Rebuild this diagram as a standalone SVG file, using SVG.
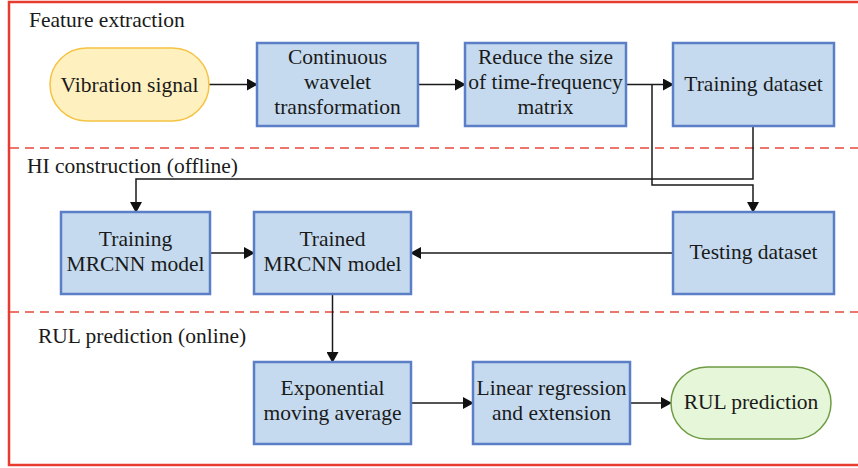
<svg xmlns="http://www.w3.org/2000/svg" width="858" height="468" viewBox="0 0 858 468">
  <style>
    .frame { fill: none; stroke: #e63b2e; stroke-width: 2.5; }
    .divider { fill: none; stroke: #e8493d; stroke-width: 1.5; stroke-dasharray: 9 6; }
    .section { font-family: "Liberation Serif", "DejaVu Serif", serif; font-size: 21.5px; fill: #1a1a1a; }
    .box { fill: #c5daef; stroke: #5b7fc6; stroke-width: 2.5; }
    .start { fill: #fff0c0; stroke: #f5c242; stroke-width: 1.5; }
    .end { fill: #e6f7d9; stroke: #6e9b43; stroke-width: 1.5; }
    .label { font-family: "Liberation Serif", "DejaVu Serif", serif; font-size: 21.5px; fill: #1a1a1a; text-anchor: middle; }
    .wire { fill: none; stroke: #1a1a1a; stroke-width: 1.5; }
  </style>
  <defs>
    <marker id="arrow" markerUnits="userSpaceOnUse" markerWidth="11" markerHeight="12" refX="10" refY="6" orient="auto">
      <path d="M0,0 L11,6 L0,12 Z" fill="#111"/>
    </marker>
  </defs>

  <rect width="858" height="468" fill="#ffffff"/>

  <!-- outer frame and section dividers -->
  <rect class="frame" x="9" y="2" width="870" height="463"/>
  <line class="divider" x1="10" y1="148" x2="858" y2="148"/>
  <line class="divider" x1="10" y1="312" x2="858" y2="312"/>

  <!-- section titles -->
  <text class="section" x="29" y="27">Feature extraction</text>
  <text class="section" x="27" y="173">HI construction (offline)</text>
  <text class="section" x="38" y="343">RUL prediction (online)</text>

  <!-- connectors -->
  <g id="connectors">
    <line class="wire" x1="209" y1="84.5" x2="257" y2="84.5" marker-end="url(#arrow)"/>
    <line class="wire" x1="418" y1="84.5" x2="465" y2="84.5" marker-end="url(#arrow)"/>
    <line class="wire" x1="626" y1="84.5" x2="673" y2="84.5" marker-end="url(#arrow)"/>
    <polyline class="wire" points="652,84.5 652,185 753,185 753,212" marker-end="url(#arrow)"/>
    <polyline class="wire" points="753,126 753,179 136,179 136,212" marker-end="url(#arrow)"/>
    <line class="wire" x1="210" y1="253" x2="254" y2="253" marker-end="url(#arrow)"/>
    <line class="wire" x1="673" y1="253" x2="411" y2="253" marker-end="url(#arrow)"/>
    <line class="wire" x1="332.5" y1="294" x2="332.5" y2="362" marker-end="url(#arrow)"/>
    <line class="wire" x1="411" y1="403" x2="473" y2="403" marker-end="url(#arrow)"/>
    <line class="wire" x1="630" y1="403" x2="671" y2="403" marker-end="url(#arrow)"/>
  </g>

  <!-- feature extraction row -->
  <g id="vibration-signal">
    <rect class="start" x="50" y="48" width="159" height="73" rx="36.5"/>
    <text class="label" x="129.5" y="91.5">Vibration signal</text>
  </g>
  <g id="cwt">
    <rect class="box" x="257" y="43" width="161" height="83"/>
    <text class="label" x="337.5" y="64">Continuous</text>
    <text class="label" x="337.5" y="89">wavelet</text>
    <text class="label" x="337.5" y="114">transformation</text>
  </g>
  <g id="reduce-size">
    <rect class="box" x="465" y="43" width="161" height="83"/>
    <text class="label" x="545.5" y="64">Reduce the size</text>
    <text class="label" x="545.5" y="89">of time-frequency</text>
    <text class="label" x="545.5" y="114">matrix</text>
  </g>
  <g id="training-dataset">
    <rect class="box" x="673" y="43" width="161" height="83"/>
    <text class="label" x="753.5" y="91">Training dataset</text>
  </g>

  <!-- HI construction row -->
  <g id="training-mrcnn">
    <rect class="box" x="61" y="212" width="149" height="82"/>
    <text class="label" x="135.5" y="246">Training</text>
    <text class="label" x="135.5" y="271">MRCNN model</text>
  </g>
  <g id="trained-mrcnn">
    <rect class="box" x="254" y="212" width="157" height="82"/>
    <text class="label" x="332.5" y="246">Trained</text>
    <text class="label" x="332.5" y="271">MRCNN model</text>
  </g>
  <g id="testing-dataset">
    <rect class="box" x="673" y="212" width="161" height="82"/>
    <text class="label" x="753.5" y="259">Testing dataset</text>
  </g>

  <!-- RUL prediction row -->
  <g id="ema">
    <rect class="box" x="254" y="362" width="157" height="82"/>
    <text class="label" x="332.5" y="395">Exponential</text>
    <text class="label" x="332.5" y="420">moving average</text>
  </g>
  <g id="linear-regression">
    <rect class="box" x="473" y="362" width="157" height="82"/>
    <text class="label" x="551.5" y="395">Linear regression</text>
    <text class="label" x="551.5" y="420">and extension</text>
  </g>
  <g id="rul-prediction">
    <rect class="end" x="671" y="367" width="160" height="72" rx="36"/>
    <text class="label" x="751" y="409">RUL prediction</text>
  </g>
</svg>
